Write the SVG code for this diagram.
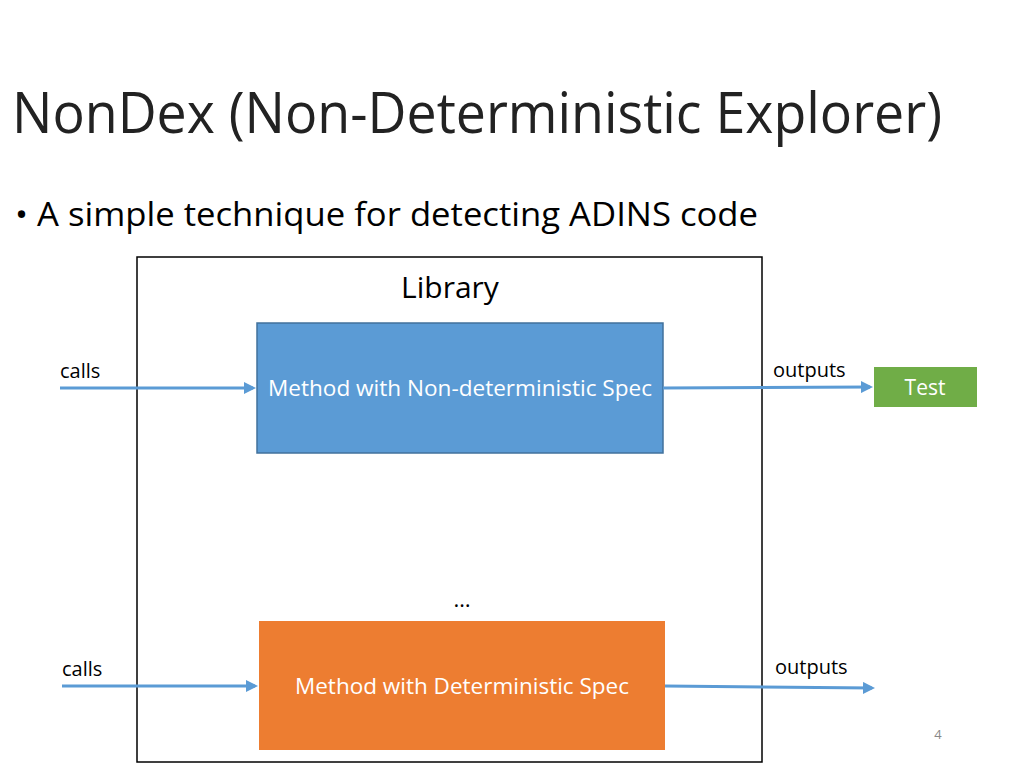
<svg xmlns="http://www.w3.org/2000/svg" width="1024" height="768" viewBox="0 0 1024 768">
<style>
text{font-family:"Open Sans","Liberation Sans",sans-serif;fill:#000}
.lbl{font-size:20px}
.w{fill:#fff;font-size:21px}
.c{stroke:#5B9BD5;stroke-width:3;fill:none;marker-end:url(#a)}
</style>
<defs><marker id="a" markerWidth="4" markerHeight="4" refX="3" refY="2" orient="auto"><path d="M0,0L4,2L0,4z" fill="#5B9BD5"/></marker></defs>
<rect width="1024" height="768" fill="#fff"/>
<text x="12" y="133" font-size="56" textLength="930" lengthAdjust="spacingAndGlyphs" style="fill:#222">NonDex (Non-Deterministic Explorer)</text>
<text x="15" y="226" font-size="33" textLength="743" lengthAdjust="spacingAndGlyphs">• A simple technique for detecting ADINS code</text>
<g id="library"><rect x="137" y="257" width="625" height="505" fill="none" stroke="#000" stroke-width="1.5"/>
<text x="450" y="298" font-size="30" text-anchor="middle">Library</text>
<text x="462" y="607" font-size="22" text-anchor="middle">…</text></g>
<g id="nondet"><rect x="257" y="323" width="406" height="130" fill="#5B9BD5" stroke="#41719C" stroke-width="1.5"/>
<text class="w" x="460" y="396" text-anchor="middle" textLength="384" lengthAdjust="spacingAndGlyphs">Method with Non-deterministic Spec</text></g>
<g id="det"><rect x="259" y="621" width="406" height="129" fill="#ED7D31"/>
<text class="w" x="462" y="694" text-anchor="middle" textLength="334" lengthAdjust="spacingAndGlyphs">Method with Deterministic Spec</text></g>
<g id="test"><rect x="874" y="367" width="103" height="40" fill="#70AD47"/>
<text class="w" x="925" y="395" text-anchor="middle">Test</text></g>
<g id="connectors">
<path class="c" d="M60,388H253"/><path class="c" d="M663,388L870,387"/>
<path class="c" d="M62,686H255"/><path class="c" d="M665,686L872,688"/>
<text class="lbl" x="60" y="378">calls</text><text class="lbl" x="773" y="377">outputs</text>
<text class="lbl" x="62" y="676">calls</text><text class="lbl" x="775" y="674">outputs</text>
</g>
<text x="938" y="739" font-size="13" text-anchor="middle" style="fill:#888">4</text>
</svg>
